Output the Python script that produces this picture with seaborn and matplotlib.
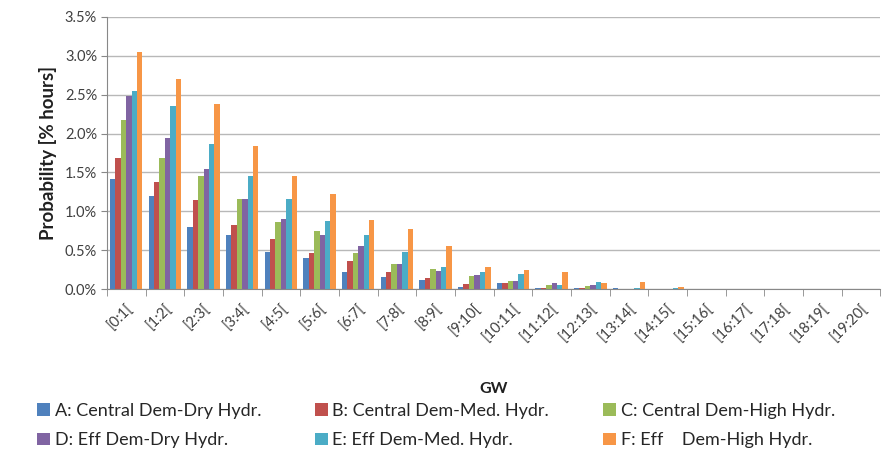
import matplotlib
matplotlib.use("Agg")
import matplotlib.pyplot as plt
from matplotlib.ticker import FuncFormatter, FixedLocator
import numpy as np
import pandas as pd
import seaborn as sns

# GW bins
bins = ["[0:1[", "[1:2[", "[2:3[", "[3:4[", "[4:5[", "[5:6[", "[6:7[", "[7:8[", "[8:9[", "[9:10[",
        "[10:11[", "[11:12[", "[12:13[", "[13:14[", "[14:15[", "[15:16[", "[16:17[", "[17:18[",
        "[18:19[", "[19:20["]

scenarios = ["A: Central Dem-Dry Hydr.", "B: Central Dem-Med. Hydr.", "C: Central Dem-High Hydr.",
             "D: Eff Dem-Dry Hydr.", "E: Eff Dem-Med. Hydr.", "F: Eff    Dem-High Hydr."]

# probability per bin, in % of hours
a_vals = [1.42, 1.20, 0.80, 0.70, 0.48, 0.40, 0.22, 0.16, 0.12, 0.03, 0.08, 0.01, 0.01, 0.01, 0.00, 0.00, 0.00, 0.00, 0.00, 0.00]
b_vals = [1.68, 1.38, 1.15, 0.83, 0.65, 0.47, 0.36, 0.22, 0.15, 0.07, 0.08, 0.02, 0.02, 0.00, 0.00, 0.00, 0.00, 0.00, 0.00, 0.00]
c_vals = [2.18, 1.68, 1.45, 1.16, 0.86, 0.75, 0.47, 0.33, 0.26, 0.17, 0.11, 0.06, 0.04, 0.00, 0.00, 0.00, 0.00, 0.00, 0.00, 0.00]
d_vals = [2.48, 1.94, 1.55, 1.16, 0.90, 0.70, 0.55, 0.33, 0.24, 0.18, 0.10, 0.08, 0.06, 0.00, 0.00, 0.00, 0.00, 0.00, 0.00, 0.00]
e_vals = [2.55, 2.35, 1.86, 1.45, 1.16, 0.87, 0.69, 0.48, 0.29, 0.22, 0.20, 0.05, 0.09, 0.02, 0.01, 0.005, 0.005, 0.005, 0.00, 0.00]
f_vals = [3.05, 2.70, 2.38, 1.84, 1.46, 1.22, 0.89, 0.77, 0.56, 0.29, 0.25, 0.22, 0.08, 0.09, 0.03, 0.005, 0.005, 0.005, 0.005, 0.00]

colors = ["#4F81BD", "#C0504D", "#9BBB59", "#8064A2", "#4BACC6", "#F79646"]

series = [a_vals, b_vals, c_vals, d_vals, e_vals, f_vals]
df = pd.DataFrame({
    "GW": np.tile(bins, len(scenarios)),
    "scenario": np.repeat(scenarios, len(bins)),
    "prob": np.concatenate([np.array(s) / 100.0 for s in series]),
})

sns.set_style("white")
plt.rcParams["font.family"] = ["Lato", "DejaVu Sans"]

fig = plt.figure(figsize=(8.83, 4.54), dpi=100)
ax = fig.add_axes([0.121, 0.363, 0.876, 0.600])

sns.barplot(data=df, x="GW", y="prob", hue="scenario", hue_order=scenarios,
            palette=colors, width=0.84, saturation=1, ax=ax, legend=True,
            edgecolor="none", linewidth=0)

ax.set_xlim(-0.5, len(bins) - 0.5)
ax.set_ylim(0, 0.035)
ax.set_yticks(np.arange(0, 0.0351, 0.005))
ax.yaxis.set_major_formatter(FuncFormatter(lambda v, p: f"{v*100:.1f}%"))
ax.tick_params(axis="y", labelsize=10.5, colors="#404040", length=4, color="#888888", left=True, pad=3)

ax.set_xticks(range(len(bins)))
ax.set_xticklabels(bins, rotation=45, ha="right", rotation_mode="anchor")
ax.xaxis.set_minor_locator(FixedLocator(np.arange(-0.5, len(bins), 1.0)))
ax.tick_params(axis="x", which="major", length=0, labelsize=10.5, labelcolor="#404040", pad=9)
ax.tick_params(axis="x", which="minor", length=5, color="#888888", bottom=True)

ax.grid(axis="y", color="#b8b8b8", linewidth=1.0)
ax.set_axisbelow(True)
for side in ["top", "right"]:
    ax.spines[side].set_visible(False)
ax.spines["left"].set_color("#888888")
ax.spines["bottom"].set_color("#888888")

ax.set_ylabel("Probability [% hours]", fontsize=13.5, fontweight="bold", color="#202020", labelpad=6)
ax.set_xlabel("GW", fontsize=11.5, fontweight="bold", color="#202020", labelpad=27)

# row-major legend: A B C on top, D E F below
handles, labels = ax.get_legend_handles_labels()
order = [0, 3, 1, 4, 2, 5]
ax.legend([handles[i] for i in order], [labels[i] for i in order],
          loc="upper left", bbox_to_anchor=(-0.099, -0.39), ncol=3,
          frameon=False, fontsize=13, handlelength=0.7, handleheight=0.7,
          handletextpad=0.25, columnspacing=3.0, labelspacing=0.75, borderaxespad=0)

fig.savefig("out.png", dpi=100)
